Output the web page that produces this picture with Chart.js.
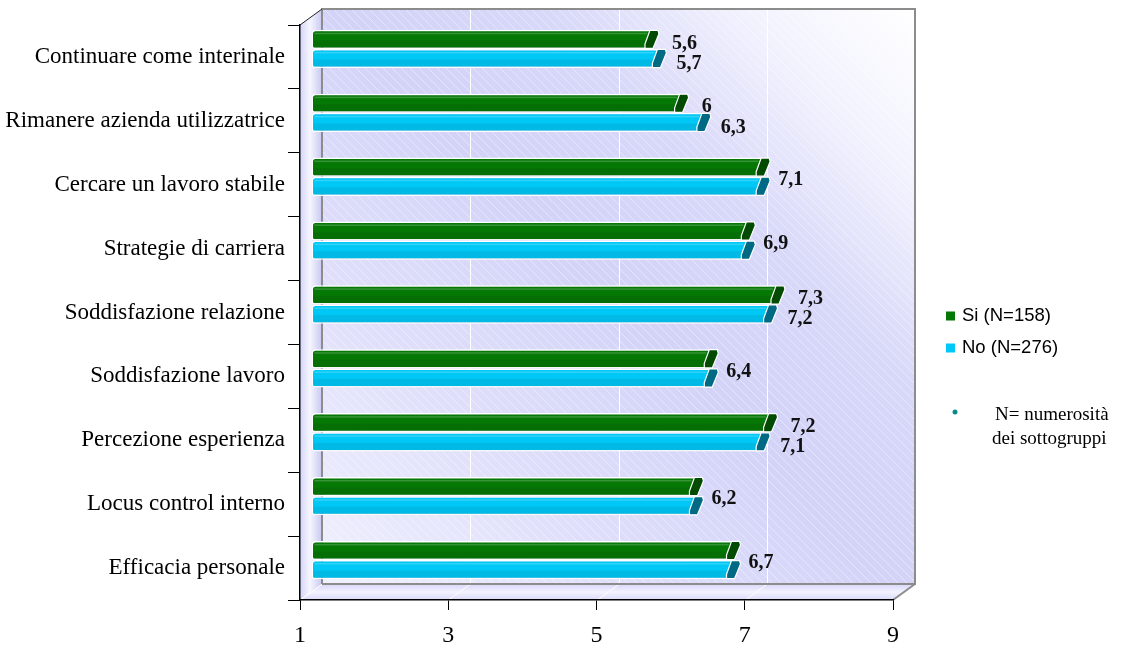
<!DOCTYPE html>
<html><head><meta charset="utf-8">
<script src="https://cdn.jsdelivr.net/npm/chart.js@4.4.1/dist/chart.umd.min.js"></script>
<style>html,body{margin:0;padding:0;background:#fff;}#wrap{position:relative;width:1121px;height:648px;}canvas{display:block;}</style>
</head><body><div id="wrap"><canvas id="c" width="1121" height="648" style="width:1121px;height:648px"></canvas></div>
<script>
const categories = [
  'Continuare come interinale',
  'Rimanere azienda utilizzatrice',
  'Cercare un lavoro stabile',
  'Strategie di carriera',
  'Soddisfazione relazione',
  'Soddisfazione lavoro',
  'Percezione esperienza',
  'Locus control interno',
  'Efficacia personale'
];
const siValues = [5.6, 6, 7.1, 6.9, 7.3, 6.4, 7.2, 6.2, 6.7];
const noValues = [5.7, 6.3, 7.1, 6.9, 7.2, 6.4, 7.1, 6.2, 6.7];
const seriesNames = ['Si (N=158)', 'No (N=276)'];
const xTicks = [1, 3, 5, 7, 9];
const noteLines = ['N= numerosità', 'dei sottogruppi'];

const COLORS = {si: '#067806', siCap: '#034a03', no: '#00c8f6', noCap: '#006a84'};
const DX = 22, DY = 16;
const serif = "'Liberation Serif', 'Times New Roman', serif";
const sans = "'Liberation Sans', Arial, sans-serif";
const fmt = v => String(v).replace('.', ',');

const wallsPlugin = {
  id: 'walls',
  beforeDraw(chart) {
    const {ctx, chartArea: a} = chart;
    const L = a.left, R = a.right, T = a.top, B = a.bottom;
    const xs = chart.scales.x;
    ctx.save();
    const g = ctx.createLinearGradient(L + DX, B - DY, R + DX, T - DY);
    g.addColorStop(0, '#f0f0fe'); g.addColorStop(0.25, '#e0e0fb'); g.addColorStop(0.5, '#d3d3f8');
    g.addColorStop(0.68, '#d8d8f9'); g.addColorStop(0.85, '#f2f2fe'); g.addColorStop(1, '#ffffff');
    ctx.fillStyle = g;
    ctx.fillRect(L + DX, T - DY, R - L, B - T);
    ctx.save();
    ctx.beginPath(); ctx.rect(L + DX, T - DY, R - L, B - T); ctx.clip();
    ctx.strokeStyle = 'rgba(255,255,255,0.5)'; ctx.lineWidth = 0.8;
    for (let s = -700; s < 700; s += 9) {
      ctx.beginPath();
      ctx.moveTo(L + DX + s, T - DY);
      ctx.lineTo(L + DX + s + 700, T - DY + 700);
      ctx.stroke();
    }
    ctx.restore();
    const gl = ctx.createLinearGradient(L, 0, L + DX, 0);
    gl.addColorStop(0, '#d4d4f8'); gl.addColorStop(0.45, '#f6f6ff'); gl.addColorStop(1, '#c8c8f2');
    ctx.fillStyle = gl;
    ctx.beginPath(); ctx.moveTo(L, T); ctx.lineTo(L + DX, T - DY); ctx.lineTo(L + DX, B - DY); ctx.lineTo(L, B); ctx.closePath(); ctx.fill();
    const gf = ctx.createLinearGradient(0, B - DY, 0, B);
    gf.addColorStop(0, '#d6d6f9'); gf.addColorStop(0.5, '#f2f2ff'); gf.addColorStop(1, '#dadafa');
    ctx.fillStyle = gf;
    ctx.beginPath(); ctx.moveTo(L, B); ctx.lineTo(L + DX, B - DY); ctx.lineTo(R + DX, B - DY); ctx.lineTo(R, B); ctx.closePath(); ctx.fill();
    ctx.strokeStyle = '#ffffff'; ctx.lineWidth = 1;
    xTicks.forEach(t => {
      const px = Math.round(xs.getPixelForValue(t)) + 0.5;
      if (t !== xTicks[0] && t !== xTicks[xTicks.length - 1]) {
        ctx.beginPath(); ctx.moveTo(px + DX, T - DY); ctx.lineTo(px + DX, B - DY); ctx.stroke();
      }
      ctx.beginPath(); ctx.moveTo(px, B); ctx.lineTo(px + DX, B - DY); ctx.stroke();
    });
    ctx.strokeStyle = '#8c8c8c'; ctx.lineWidth = 2;
    ctx.beginPath();
    ctx.moveTo(L + DX, B - DY); ctx.lineTo(L + DX, T - DY); ctx.lineTo(R + DX, T - DY);
    ctx.lineTo(R + DX, B - DY); ctx.lineTo(L + DX, B - DY);
    ctx.moveTo(R + DX, B - DY); ctx.lineTo(R, B);
    ctx.stroke();
    ctx.strokeStyle = '#222'; ctx.lineWidth = 1;
    ctx.beginPath(); ctx.moveTo(L, T); ctx.lineTo(L + DX, T - DY); ctx.stroke();
    ctx.restore();
  },
  beforeDatasetsDraw(chart) {
    chart.ctx.save();
    chart.ctx.translate(DX / 2, -DY / 2);
  },
  afterDatasetsDraw(chart) {
    const ctx = chart.ctx;
    const metas = [chart.getDatasetMeta(0), chart.getDatasetMeta(1)];
    const caps = [COLORS.siCap, COLORS.noCap];
    metas.forEach((meta, di) => {
      meta.data.forEach(bar => {
        const x = bar.x, yt = bar.y - bar.height / 2, yb = bar.y + bar.height / 2;
        ctx.fillStyle = 'rgba(0,0,0,0.07)';
        ctx.fillRect(bar.base + 2, bar.y + 1, x - bar.base - 6, bar.height / 2 - 2);
        ctx.fillStyle = 'rgba(255,255,255,0.2)';
        ctx.fillRect(bar.base + 3, yt + 3, x - bar.base - 8, 1.5);
        ctx.beginPath();
        ctx.moveTo(x - 7, yb - 0.5); ctx.lineTo(x + 1, yb - 0.5); ctx.lineTo(x + 7, yt + 4);
        ctx.lineTo(x + 6, yt + 0.5); ctx.lineTo(x - 2, yt + 0.5); ctx.lineTo(x - 7, yb - 5); ctx.closePath();
        ctx.fillStyle = caps[di]; ctx.fill();
        ctx.lineJoin = 'round'; ctx.strokeStyle = '#ffffff'; ctx.lineWidth = 1.2; ctx.stroke();
      });
    });
    ctx.fillStyle = '#111'; ctx.font = 'bold 20px ' + serif;
    ctx.textAlign = 'left'; ctx.textBaseline = 'middle';
    categories.forEach((c, i) => {
      const b0 = metas[0].data[i], b1 = metas[1].data[i];
      if (siValues[i] === noValues[i]) {
        ctx.fillText(fmt(siValues[i]), Math.max(b0.x, b1.x) + 15, (b0.y + b1.y) / 2 + 3);
      } else {
        ctx.fillText(fmt(siValues[i]), b0.x + 20, b0.y + 4);
        ctx.fillText(fmt(noValues[i]), b1.x + 17, b1.y + 5);
      }
    });
    ctx.restore();
  },
  afterDraw(chart) {
    const ctx = chart.ctx;
    ctx.save();
    const items = [[COLORS.si, 316], ['#00c8f8', 348]];
    ctx.font = '18.5px ' + sans; ctx.textBaseline = 'middle'; ctx.textAlign = 'left'; ctx.fillStyle = '#000';
    items.forEach((it, k) => {
      ctx.fillStyle = it[0]; ctx.fillRect(946, it[1] - 4.5, 9, 9);
      ctx.fillStyle = '#000'; ctx.fillText(seriesNames[k], 962, it[1]);
    });
    ctx.fillStyle = '#0a8a8a';
    ctx.beginPath(); ctx.arc(955, 412, 2.5, 0, Math.PI * 2); ctx.fill();
    ctx.fillStyle = '#000'; ctx.font = '19px ' + serif;
    ctx.fillText(noteLines[0], 995, 415);
    ctx.fillText(noteLines[1], 992, 439);
    ctx.restore();
  }
};

new Chart(document.getElementById('c'), {
  type: 'bar',
  data: {
    labels: categories,
    datasets: [
      {label: seriesNames[0], data: siValues, backgroundColor: COLORS.si},
      {label: seriesNames[1], data: noValues, backgroundColor: COLORS.no}
    ]
  },
  options: {
    indexAxis: 'y',
    responsive: false,
    maintainAspectRatio: false,
    animation: false,
    devicePixelRatio: 1,
    layout: {padding: {top: 25, right: 228, left: 0, bottom: 0}},
    base: 1,
    categoryPercentage: 0.6,
    barPercentage: 1,
    borderColor: '#ffffff',
    borderWidth: 1.5,
    borderSkipped: false,
    borderRadius: {topLeft: 4, bottomLeft: 3},
    plugins: {legend: {display: false}, tooltip: {enabled: false}},
    scales: {
      x: {
        type: 'linear', min: 1, max: 9, beginAtZero: false,
        afterBuildTicks: s => { s.ticks = xTicks.map(v => ({value: v})); },
        afterFit: s => { s.height = 48; },
        grid: {drawOnChartArea: false, color: '#000', tickLength: 10, tickWidth: 1},
        border: {display: true, color: '#000', width: 1.5},
        ticks: {color: '#000', font: {family: serif, size: 24}, padding: 11, maxRotation: 0, autoSkip: false}
      },
      y: {
        afterFit: s => { s.width = 300; },
        grid: {drawOnChartArea: false, color: '#000', tickLength: 12, offset: true},
        border: {display: true, color: '#000', width: 1.5},
        ticks: {color: '#000', font: {family: serif, size: 23}, padding: 3, autoSkip: false}
      }
    }
  },
  plugins: [wallsPlugin]
});
</script></body></html>
